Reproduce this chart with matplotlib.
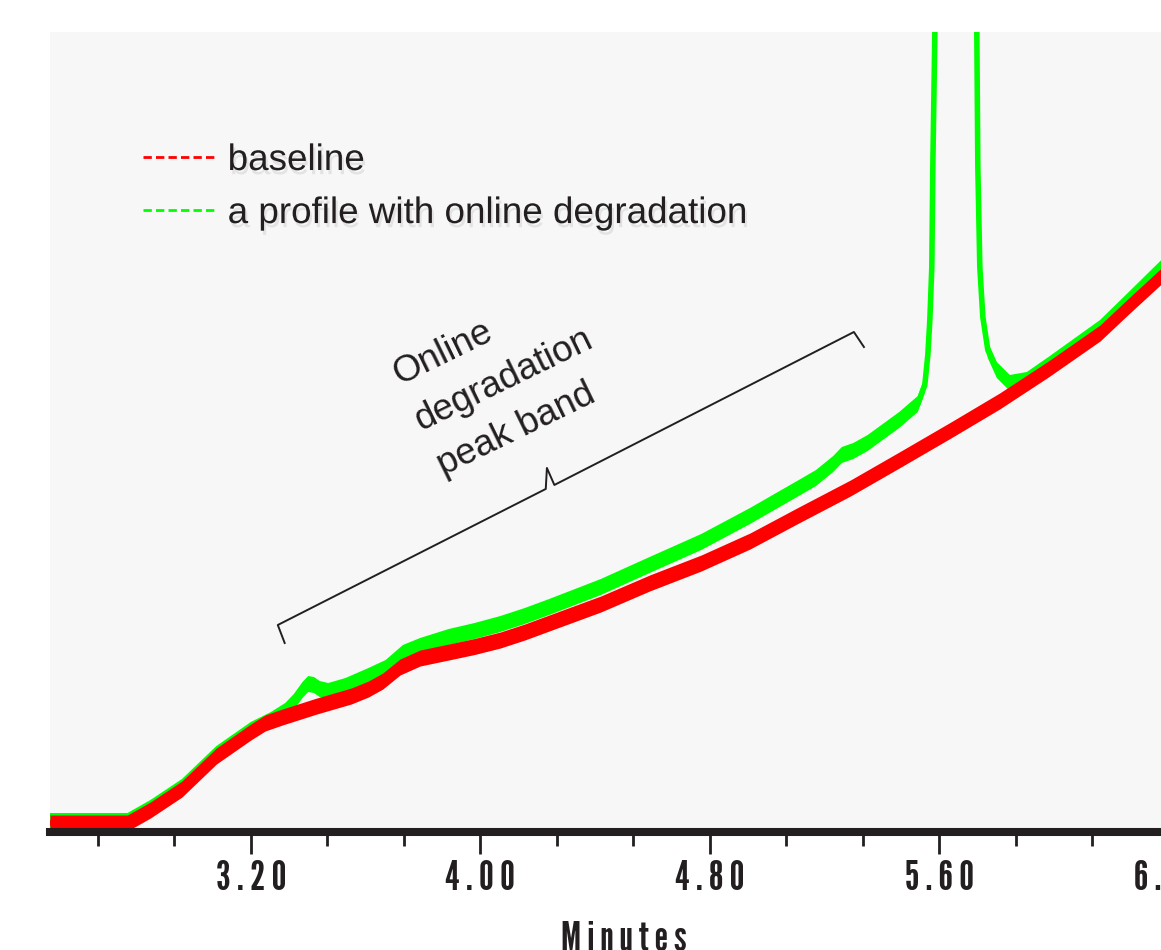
import matplotlib
matplotlib.use('Agg')
import matplotlib.pyplot as plt
import matplotlib.patheffects as pe
from matplotlib.lines import Line2D
from matplotlib.ticker import MultipleLocator, FuncFormatter
import numpy as np

# baseline run (red), minutes vs detector response
base_t = [2.50, 2.77, 2.85, 2.96, 3.08, 3.15, 3.20, 3.25, 3.31, 3.43, 3.55, 3.61,
          3.66, 3.72, 3.79, 3.89, 3.98, 4.07, 4.155, 4.24, 4.42, 4.59, 4.77, 4.94,
          5.11, 5.29, 5.46, 5.64, 5.81, 5.98, 6.16, 6.26, 6.37, 6.40]
base_y = [0.9, 0.9, 2.2, 4.3, 7.6, 9.0, 10.0, 10.9, 11.5, 12.6, 13.6, 14.3,
          15.1, 16.5, 17.4, 18.0, 18.55, 19.2, 20.0, 20.9, 22.8, 24.9, 26.9, 29.1,
          31.7, 34.4, 37.2, 40.2, 43.1, 46.3, 49.9, 52.6, 55.5, 56.4]

# profile with online degradation (green)
degr_t = [2.50, 2.77, 2.85, 2.96, 3.08, 3.15, 3.20, 3.27, 3.32, 3.35, 3.38, 3.40,
          3.42, 3.44, 3.47, 3.53, 3.61, 3.67, 3.73, 3.79, 3.89, 3.98, 4.07, 4.155,
          4.24, 4.42, 4.59, 4.77, 4.94, 5.11, 5.17, 5.23, 5.26, 5.30, 5.35, 5.46,
          5.5248, 5.5492, 5.5597, 5.5667, 5.5736, 5.5771, 5.5841, 5.6573, 5.7305,
          5.7340, 5.7409, 5.7514, 5.7688, 5.8002, 5.8455, 5.9047, 5.98, 6.16, 6.26,
          6.37, 6.40]
degr_y = [1.1, 1.1, 2.4, 4.5, 7.8, 9.2, 10.2, 11.2, 12.1, 13.0, 14.2, 14.8,
          14.7, 14.3, 14.1, 14.6, 15.6, 16.4, 17.9, 18.6, 19.5, 20.1, 20.8, 21.6,
          22.5, 24.5, 26.7, 29.0, 31.6, 34.4, 35.4, 36.8, 37.7, 38.1, 38.9, 41.2,
          42.8, 44.7, 47.7, 51.2, 56.5, 66.5, 79.7, 300.0, 79.7,
          66.5, 56.5, 51.5, 48.2, 46.2, 44.9, 45.2, 46.7, 50.4, 53.2,
          56.3, 57.2]

legend_labels = ['baseline', 'a profile with online degradation']
band_label = 'Online\ndegradation\npeak band'
band_t = (3.294, 5.302)   # bracket ends
band_y = (20.7, 50.0)
band_mid = 4.24
xlabel = 'Minutes'

RED = '#ff0000'
GREEN = '#00ff00'
INK = '#231f20'
SANS = ['Liberation Sans', 'DejaVu Sans']
COND = ['League Gothic', 'Roboto Condensed', 'DejaVu Sans']
W, H = 1161, 950

fig = plt.figure(figsize=(W / 100, H / 100), dpi=100)
# axes runs past the right edge of the figure, like the cropped original
ax = fig.add_axes([50 / W, 118 / H, 1147.6 / W, 800 / H])
ax.set_facecolor('#f7f7f7')
ax.set_xlim(2.50, 6.50)
ax.set_ylim(0, 80)

hw = 0.8
for t, y, c, z in [(degr_t, degr_y, GREEN, 2), (base_t, base_y, RED, 3)]:
    t = np.array(t)
    y = np.array(y)
    ax.fill_between(t, y - hw, y + hw, color=c, lw=0, zorder=z)
    ax.plot(t, y, color=c, lw=4, zorder=z, solid_capstyle='butt')

# bracket over the degradation band
slope = (band_y[1] - band_y[0]) / (band_t[1] - band_t[0])
ym = band_y[0] + slope * (band_mid - band_t[0])
bx = [band_t[0] + 0.024, band_t[0], band_mid - 0.012, band_mid - 0.008,
      band_mid + 0.018, band_t[1], band_t[1] + 0.035]
by = [band_y[0] - 1.8, band_y[0], ym - 0.2, ym + 1.9,
      ym + 0.2, band_y[1], band_y[1] - 1.5]
ax.plot(bx, by, color=INK, lw=1.4, zorder=4)

ax.text(3.848, 37.0, band_label, rotation=26, rotation_mode='anchor',
        ha='left', va='baseline', multialignment='left', linespacing=1.56,
        fontsize=26.5, color=INK, family=SANS)

# axis styling
for s in ['left', 'right', 'top']:
    ax.spines[s].set_visible(False)
ax.spines['bottom'].set_linewidth(5.8)
ax.spines['bottom'].set_color(INK)
ax.spines['bottom'].set_zorder(5)
ax.set_yticks([])
ax.xaxis.set_major_locator(MultipleLocator(0.8))
ax.xaxis.set_minor_locator(MultipleLocator(0.8 / 3))
ax.xaxis.set_major_formatter(FuncFormatter(lambda v, p: ' '.join(f'{v:.2f}')))
ax.tick_params(axis='x', which='major', length=16, width=2, color=INK, pad=4)
ax.tick_params(axis='x', which='minor', length=10, width=2, color=INK)
for lab in ax.get_xticklabels():
    lab.set_family(COND)
    lab.set_fontsize(30)
    lab.set_color(INK)
ax.set_xlabel(' '.join(xlabel), family=COND, fontsize=30, color=INK, labelpad=17)

handles = [Line2D([], [], color=RED, lw=2, ls=(0, (3.0, 1.5))),
           Line2D([], [], color=GREEN, lw=2, ls=(0, (3.0, 1.5)))]
leg = ax.legend(handles, legend_labels, loc='upper left',
                bbox_to_anchor=(143 / W, 1 - 143 / H), bbox_transform=fig.transFigure,
                frameon=False, borderpad=0, borderaxespad=0, handlelength=1.95,
                handletextpad=0.35, labelspacing=0.49,
                prop={'family': SANS, 'size': 26.5})
for txt in leg.get_texts():
    txt.set_color(INK)
    txt.set_path_effects([pe.withSimplePatchShadow(offset=(1.5, -3),
                                                   shadow_rgbFace='black', alpha=0.08)])

fig.savefig('out.png', dpi=100)
